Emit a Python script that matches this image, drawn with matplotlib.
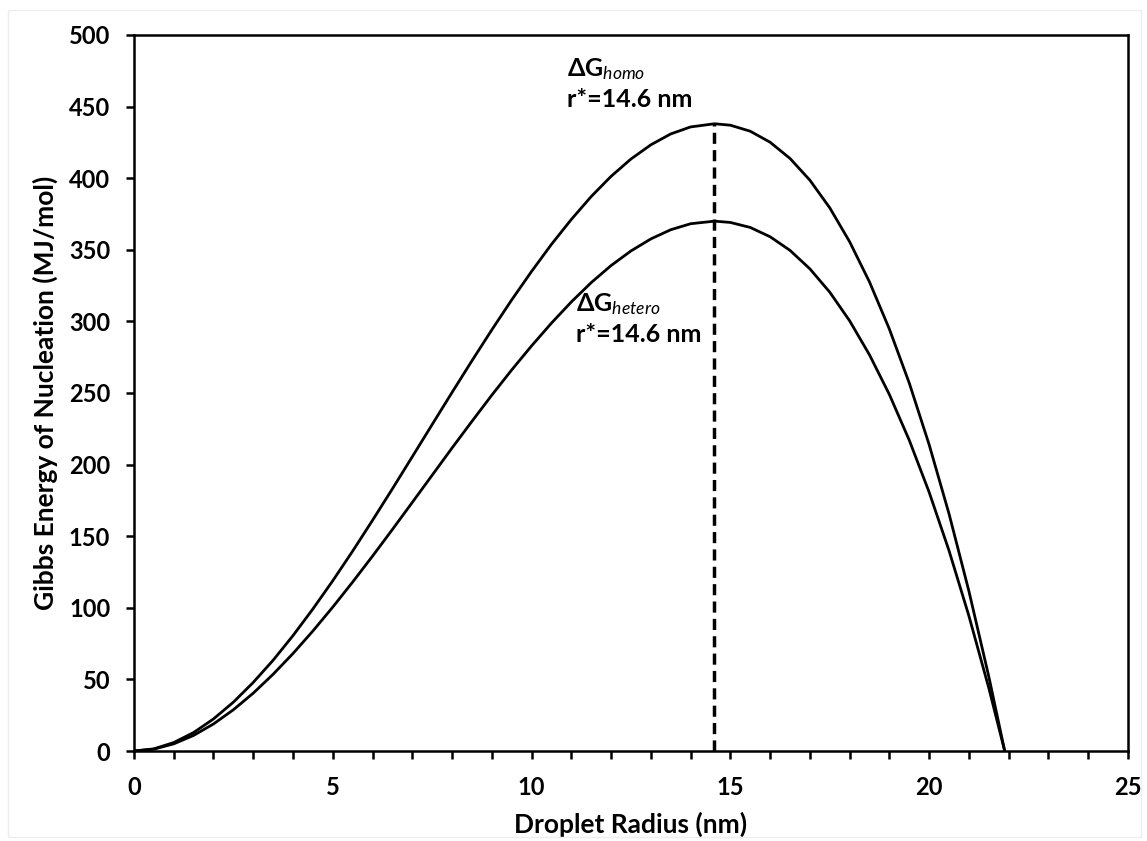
import matplotlib.pyplot as plt
from matplotlib.patches import Rectangle
from matplotlib.ticker import MultipleLocator

plt.rcParams['font.family'] = ['Lato', 'DejaVu Sans']
plt.rcParams['mathtext.fontset'] = 'custom'
plt.rcParams['mathtext.rm'] = 'Lato'
plt.rcParams['mathtext.it'] = 'Lato:italic'

# droplet radius (nm) and Gibbs energy (MJ/mol)
radius = [0, 0.5, 1, 1.5, 2, 2.5, 3, 3.5, 4, 4.5, 5, 5.5, 6, 6.5, 7, 7.5, 8, 8.5,
          9, 9.5, 10, 10.5, 11, 11.5, 12, 12.5, 13, 13.5, 14, 14.6, 15, 15.5, 16,
          16.5, 17, 17.5, 18, 18.5, 19, 19.5, 20, 20.5, 21, 21.5, 21.9]
g_homo = [0, 1.5, 5.9, 12.9, 22.4, 34.1, 47.9, 63.4, 80.6, 99.2, 118.9, 139.6,
          161.1, 183.1, 205.5, 228.0, 250.4, 272.5, 294.1, 315.0, 334.9, 353.8,
          371.2, 387.2, 401.3, 413.4, 423.3, 430.9, 435.8, 438.0, 437.0, 432.8,
          425.1, 413.8, 398.6, 379.3, 355.6, 327.5, 294.6, 256.9, 213.9, 165.6,
          111.6, 52.0, 0]
g_hetero = [0, 1.3, 5.0, 10.9, 18.9, 28.8, 40.4, 53.6, 68.1, 83.8, 100.5, 118.0,
            136.1, 154.7, 173.6, 192.6, 211.6, 230.2, 248.5, 266.1, 282.9, 298.8,
            313.6, 327.1, 339.0, 349.2, 357.6, 364.0, 368.2, 370.0, 369.1, 365.6,
            359.1, 349.6, 336.7, 320.4, 300.4, 276.6, 248.9, 217.0, 180.7, 139.9,
            94.3, 44.0, 0]
r_crit = 14.6
g_crit = 438.0

fig = plt.figure(figsize=(11.47, 8.41), dpi=100)
ax = fig.add_axes([0.1168, 0.107, 0.8666, 0.8514])

ax.plot(radius, g_homo, color='black', lw=2.0)
ax.plot(radius, g_hetero, color='black', lw=2.0)
ax.plot([r_crit, r_crit], [0, g_crit], color='black', lw=2.5, ls=(0, (3.2, 1.8)))

# labels
ax.text(10.89, 471, 'ΔG$_{\\it homo}$', fontsize=18, fontweight='bold')
ax.text(10.89, 449.5, 'r*=14.6 nm', fontsize=18, fontweight='bold')
ax.text(11.12, 307, 'ΔG$_{\\it hetero}$', fontsize=18, fontweight='bold')
ax.text(11.12, 285.5, 'r*=14.6 nm', fontsize=18, fontweight='bold')

ax.set_xlim(0, 25)
ax.set_ylim(0, 500)
ax.xaxis.set_major_locator(MultipleLocator(5))
ax.xaxis.set_minor_locator(MultipleLocator(1))
ax.yaxis.set_major_locator(MultipleLocator(50))
ax.tick_params(axis='both', which='both', direction='out', width=1.8, length=6,
               labelsize=17)
ax.tick_params(axis='y', pad=11)
ax.tick_params(axis='x', which='both', pad=12)
for lab in ax.get_xticklabels() + ax.get_yticklabels():
    lab.set_fontweight('bold')
for sp in ax.spines.values():
    sp.set_linewidth(1.8)

ax.set_xlabel('Droplet Radius (nm)', fontsize=19, fontweight='bold', labelpad=9)
ax.set_ylabel('Gibbs Energy of Nucleation (MJ/mol)', fontsize=19, fontweight='bold',
              labelpad=8)

fig.patches.append(Rectangle((0.007, 0.005), 0.988, 0.983, transform=fig.transFigure,
                             fill=False, edgecolor='#eeeeee', lw=1))

fig.savefig('out.png', dpi=100)
